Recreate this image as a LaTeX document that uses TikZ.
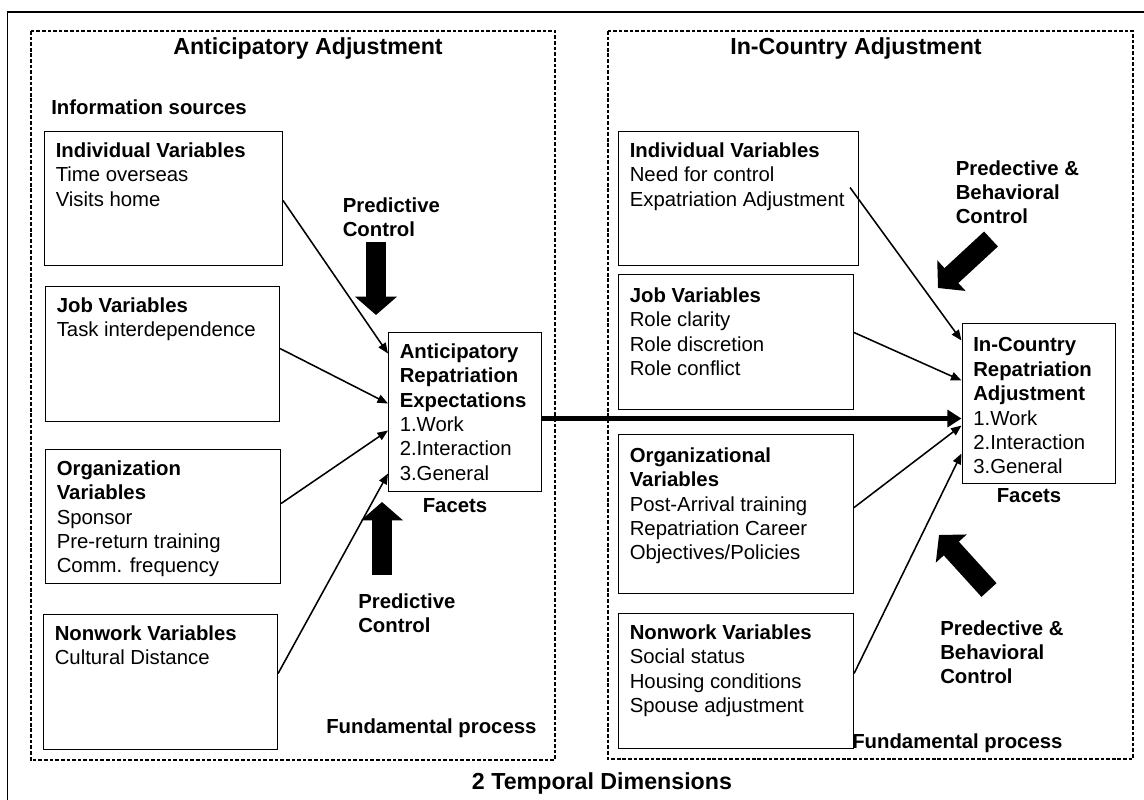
\documentclass[tikz,border=0pt]{standalone}
\usepackage{fontspec}
\setmainfont{Liberation Sans}
\usetikzlibrary{arrows.meta, calc}

\newdimen\px
\px=0.025cm

\tikzset{
  varbox/.style={draw, line width=0.75pt, anchor=north west, inner sep=0pt},
  vartext/.style={anchor=north west, inner sep=0pt, align=left,
    font=\fontsize{14.46pt}{17.36pt}\selectfont},
  labeltext/.style={inner sep=0pt, align=left,
    font=\fontsize{14.46pt}{17pt}\selectfont\bfseries},
  phasetitle/.style={anchor=base, inner sep=0pt,
    font=\fontsize{16.5pt}{20pt}\selectfont\bfseries},
  phase/.style={line width=1.5pt, dash pattern=on 2.6pt off 1.4pt},
  link/.style={line width=1.1pt, -{Triangle[length=7.5pt,width=6pt]}},
  mainlink/.style={line width=4.2pt, -{Triangle[length=10pt,width=12pt]}},
  fatarrow/.style={line width=14.5pt, -{Triangle[length=13pt,width=29pt]}},
}

\begin{document}
\begin{tikzpicture}[x=0.025cm,y=-0.025cm]
\useasboundingbox (0,0) rectangle (1144,800);

\draw[line width=0.8pt] (1144,12) -- (7.7,12) -- (7.7,800);

% the two phases
\draw[phase] (30.6,31) rectangle (555,760);
\draw[phase] (608,31) rectangle (1133,759);
\node[phasetitle] (antT) at (308,55) {Anticipatory Adjustment};
\node[phasetitle] (icT) at (856,55) {In-Country Adjustment};
\node[phasetitle] (dims) at (602,789) {2 Temporal Dimensions};

% boxes: name/x/y/width/height/first baseline/text
\foreach \nm/\x/\y/\w/\h/\dy/\txt in {
  indL/44/131/238/134/26/{\textbf{Individual Variables}\\Time overseas\\Visits home},
  jobL/45/286/234/135/26/{\textbf{Job Variables}\\Task interdependence},
  orgL/45/449/235/134/26/{\textbf{Organization}\\\textbf{Variables}\\Sponsor\\Pre-return training\\Comm. frequency},
  nonL/43/614/234/135/26/{\textbf{Nonwork Variables}\\Cultural Distance},
  exp/388/332/153/159/26/{\textbf{Anticipatory}\\\textbf{Repatriation}\\\textbf{Expectations}\\1.Work\\2.Interaction\\3.General},
  indR/618/131/240/134/26/{\textbf{Individual Variables}\\Need for control\\Expatriation Adjustment},
  jobR/618/274/235/135/28/{\textbf{Job Variables}\\Role clarity\\Role discretion\\Role conflict},
  orgR/618/434/235/159/28/{\textbf{Organizational}\\\textbf{Variables}\\Post-Arrival training\\Repatriation Career\\Objectives/Policies},
  nonR/618/613/235/135/26/{\textbf{Nonwork Variables}\\Social status\\Housing conditions\\Spouse adjustment},
  icr/961.5/323/153.5/160/29/{\textbf{In-Country}\\\textbf{Repatriation}\\\textbf{Adjustment}\\1.Work\\2.Interaction\\3.General}}
{
  \node[varbox, minimum width=\w\px, minimum height=\h\px] (\nm) at (\x,\y) {};
  \node[vartext] (\nm-t) at ($(\nm.north west)+(11.5,\dy-14.7)$) {\txt};
}

\node[labeltext, anchor=base west] (info) at (51,115) {Information sources};
\node[labeltext, anchor=north west] (pcTop) at (342.5,197.3) {Predictive\\Control};
\node[labeltext, anchor=north west] (pcBot) at (358,593.3) {Predictive\\Control};
\node[labeltext, anchor=base] (facL) at (455,512) {Facets};
\node[labeltext, anchor=base west] (fpL) at (326,733) {Fundamental process};
\node[labeltext, anchor=north west] (pbTop) at (955.5,160.3) {Predective \&\\Behavioral\\Control};
\node[labeltext, anchor=north west] (pbBot) at (940,620.3) {Predective \&\\Behavioral\\Control};
\node[labeltext, anchor=base] (facR) at (1029,502) {Facets};
\node[labeltext, anchor=base west] (fpR) at (852,748) {Fundamental process};

% information sources -> expectations
\draw[link] ([yshift=-2\px]indL.east) -- ([yshift=58.5\px]exp.west);
\draw[link] ([yshift=5.5\px]jobL.east) -- ([yshift=8.5\px]exp.west);
\draw[link] ([yshift=13\px]orgL.east) -- ([yshift=-18.5\px]exp.west);
\draw[link] ([yshift=8.5\px]nonL.east) -- ([yshift=-61.5\px]exp.west);

\draw[link] ([shift={(-9\px,11\px)}]indR.east) -- ([yshift=63\px]icr.west);
\draw[link] ([yshift=9.5\px]jobR.east) -- ([yshift=23\px]icr.west);
\draw[link] ([yshift=6.5\px]orgR.east) -- ([yshift=-22\px]icr.west);
\draw[link] ([yshift=7.5\px]nonR.east) -- ([yshift=-50\px]icr.west);

\coordinate (mid) at ([yshift=-6.5\px]exp.east);
\draw[mainlink] (mid) -- (mid -| icr.west);

% control arrows
\draw[fatarrow] (376,242) -- (376,315);
\draw[fatarrow] (382,575) -- (382,502);
\draw[fatarrow] (991,239) -- (938,288);
\draw[fatarrow] (989,590) -- (939,535);
\end{tikzpicture}
\end{document}
